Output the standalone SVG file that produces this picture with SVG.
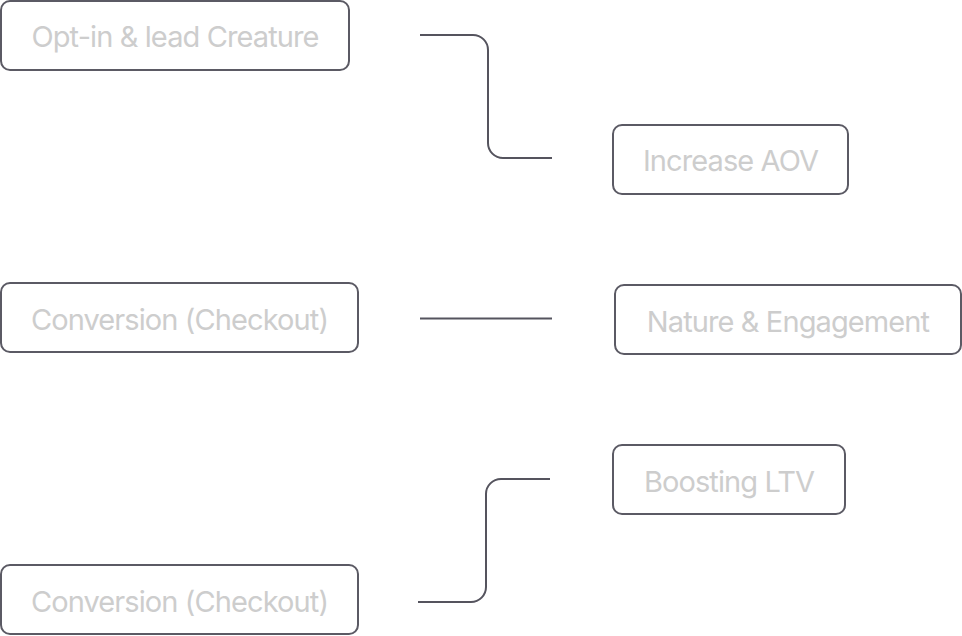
<svg xmlns="http://www.w3.org/2000/svg" width="962" height="636" viewBox="0 0 962 636">
<style>
.box{fill:#ffffff;stroke:#5b5a64;stroke-width:2}
.lbl{font-family:Inter,"Noto Sans",sans-serif;font-size:29px;fill:#cdcdcd;text-anchor:middle;letter-spacing:-0.9px}
.con{fill:none;stroke:#55545e;stroke-width:2}
</style>
<rect width="962" height="636" fill="#ffffff"/>
<g id="connectors">
<path class="con" d="M420 35 H473 A15 15 0 0 1 488 50 V143 A15 15 0 0 0 503 158 H552"/>
<path class="con" d="M420 318.5 H552"/>
<path class="con" d="M418 602 H471 A15 15 0 0 0 486 587 V494 A15 15 0 0 1 501 479 H550"/>
</g>
<g id="n1"><rect class="box" x="1" y="1" width="348" height="69" rx="9"/><text class="lbl" x="175" y="46.5">Opt-in &amp; lead Creature</text></g>
<g id="n2"><rect class="box" x="613" y="125" width="235" height="69" rx="9"/><text class="lbl" x="730.5" y="170.5">Increase AOV</text></g>
<g id="n3"><rect class="box" x="1" y="283" width="357" height="69" rx="9"/><text class="lbl" x="179.5" y="329.5">Conversion (Checkout)</text></g>
<g id="n4"><rect class="box" x="615" y="285" width="346" height="69" rx="9"/><text class="lbl" x="788" y="331.5">Nature &amp; Engagement</text></g>
<g id="n5"><rect class="box" x="613" y="445" width="232" height="69" rx="9"/><text class="lbl" x="729" y="491.5">Boosting LTV</text></g>
<g id="n6"><rect class="box" x="1" y="565" width="357" height="69" rx="9"/><text class="lbl" x="179.5" y="611.5">Conversion (Checkout)</text></g>
</svg>
